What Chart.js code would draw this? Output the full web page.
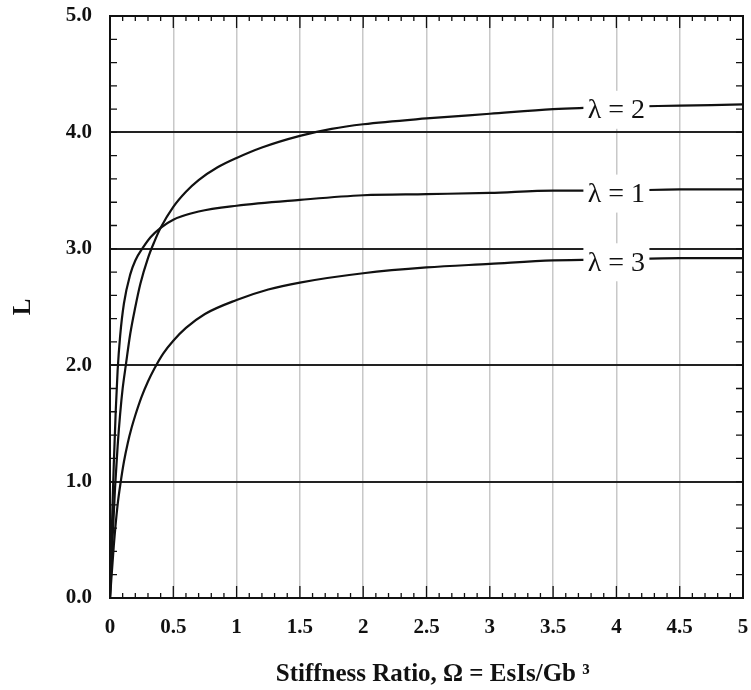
<!DOCTYPE html>
<html>
<head>
<meta charset="utf-8">
<script src="https://cdn.jsdelivr.net/npm/chart.js@4/dist/chart.umd.min.js"></script>
<style>
  html, body { margin: 0; padding: 0; background: #fff; }
  #c { display: block; }
</style>
</head>
<body>
<canvas id="c" width="751" height="690"></canvas>
<script>
// ---- data ----
const lam1X = [0, 0.01, 0.02, 0.03, 0.045, 0.06, 0.08, 0.11, 0.16, 0.2, 0.26, 0.32, 0.4, 0.5, 0.7, 1, 1.5, 2, 2.5, 3, 3.5, 4, 4.5, 5];
const lam1Y = [0, 0.4, 0.8, 1.15, 1.6, 1.95, 2.25, 2.53, 2.78, 2.9, 3.01, 3.1, 3.18, 3.25, 3.32, 3.37, 3.42, 3.46, 3.47, 3.48, 3.50, 3.50, 3.51, 3.51];

const lam2X = [0, 0.02, 0.04, 0.06, 0.08, 0.1, 0.125, 0.16, 0.2, 0.24, 0.3, 0.35, 0.4, 0.5, 0.6, 0.7, 0.85, 1, 1.2, 1.5, 1.75, 2, 2.5, 3, 3.5, 4, 4.5, 5];
const lam2Y = [0, 0.5, 0.95, 1.3, 1.58, 1.8, 2.0, 2.27, 2.5, 2.7, 2.92, 3.06, 3.18, 3.36, 3.49, 3.59, 3.70, 3.78, 3.87, 3.97, 4.03, 4.07, 4.12, 4.16, 4.20, 4.22, 4.23, 4.24];

const lam3X = [0, 0.03, 0.06, 0.085, 0.11, 0.14, 0.17, 0.2, 0.25, 0.3, 0.35, 0.42, 0.5, 0.6, 0.75, 1, 1.25, 1.5, 2, 2.5, 3, 3.5, 4, 4.5, 5];
const lam3Y = [0, 0.45, 0.8, 1.0, 1.17, 1.33, 1.46, 1.57, 1.73, 1.86, 1.97, 2.1, 2.21, 2.32, 2.44, 2.56, 2.65, 2.71, 2.79, 2.84, 2.87, 2.90, 2.91, 2.92, 2.92];

const seriesLabels = ['λ = 1', 'λ = 2', 'λ = 3'];
const labelAtX = 4.0;

const xTitle = 'Stiffness Ratio, Ω = EsIs/Gb ³';
const yTitle = 'L';

function pts(xs, ys) { return xs.map((x, i) => ({ x: x, y: ys[i] })); }

const SERIF = '"Liberation Serif", "DejaVu Serif", serif';

function near(v, t) { return Math.abs(v - t) < 1e-6; }

const framePlugin = {
  id: 'frameTicks',
  afterDatasetsDraw(chart) {
    const ctx = chart.ctx;
    const a = chart.chartArea;
    const xs = chart.scales.x, ys = chart.scales.y;
    ctx.save();
    ctx.strokeStyle = '#111';
    ctx.lineWidth = 1.3;
    ctx.beginPath();
    for (let i = 0; i <= 50; i++) {
      const px = xs.getPixelForValue(i / 10);
      const len = (i % 5 === 0) ? 12 : 5;
      ctx.moveTo(px, a.bottom); ctx.lineTo(px, a.bottom - len);
      ctx.moveTo(px, a.top); ctx.lineTo(px, a.top + len);
    }
    for (let i = 0; i <= 25; i++) {
      const py = ys.getPixelForValue(i / 5);
      ctx.moveTo(a.left, py); ctx.lineTo(a.left + 7, py);
      ctx.moveTo(a.right, py); ctx.lineTo(a.right - 7, py);
    }
    ctx.stroke();
    // frame
    ctx.lineWidth = 2;
    ctx.strokeStyle = '#111';
    ctx.strokeRect(a.left, a.top, a.right - a.left, a.bottom - a.top);

    // curve labels with white boxes
    ctx.font = '28px ' + SERIF;
    ctx.textAlign = 'center';
    ctx.textBaseline = 'middle';
    chart.data.datasets.forEach((ds, di) => {
      const d = ds.data;
      let yv = d[d.length - 1].y;
      for (let k = 0; k < d.length - 1; k++) {
        if (d[k].x <= labelAtX && d[k + 1].x >= labelAtX) {
          const t = (labelAtX - d[k].x) / (d[k + 1].x - d[k].x);
          yv = d[k].y + t * (d[k + 1].y - d[k].y);
          break;
        }
      }
      const cx = xs.getPixelForValue(labelAtX);
      const cy = ys.getPixelForValue(yv) + 3;
      ctx.fillStyle = '#fff';
      ctx.fillRect(cx - 33, cy - 19, 66, 38);
      ctx.fillStyle = '#111';
      ctx.fillText(seriesLabels[di], cx, cy + 1);
    });
    ctx.restore();
  }
};

const lineStyle = {
  borderColor: '#111',
  borderWidth: 2.2,
  pointRadius: 0,
  fill: false,
  cubicInterpolationMode: 'monotone',
  showLine: true
};

new Chart(document.getElementById('c'), {
  type: 'scatter',
  data: {
    datasets: [
      Object.assign({ label: seriesLabels[0], data: pts(lam1X, lam1Y) }, lineStyle),
      Object.assign({ label: seriesLabels[1], data: pts(lam2X, lam2Y) }, lineStyle),
      Object.assign({ label: seriesLabels[2], data: pts(lam3X, lam3Y) }, lineStyle)
    ]
  },
  options: {
    responsive: false,
    animation: false,
    layout: { padding: { left: 0, right: 8, top: 16, bottom: 0 } },
    plugins: { legend: { display: false }, tooltip: { enabled: false } },
    scales: {
      x: {
        type: 'linear',
        min: 0, max: 5,
        afterFit(s) { s.height = 92; s.paddingLeft = 0; s.paddingRight = 0; },
        ticks: {
          stepSize: 0.5,
          padding: 17,
          color: '#111',
          font: { family: SERIF, size: 21, weight: 'bold' },
          maxRotation: 0,
          autoSkip: false,
          callback(v) { return String(Math.round(v * 10) / 10); }
        },
        grid: { color: '#c8c8c8', lineWidth: 1.5, drawTicks: false },
        border: { display: false },
        title: {
          display: true,
          text: '  ' + xTitle,
          color: '#111',
          font: { family: SERIF, size: 25, weight: 'bold' },
          padding: { top: 10, bottom: 0 }
        }
      },
      y: {
        type: 'linear',
        min: 0, max: 5,
        afterFit(s) { s.width = 110; s.paddingTop = 0; s.paddingBottom = 0; },
        ticks: {
          stepSize: 0.2,
          padding: 18,
          color: '#111',
          autoSkip: false,
          font: { family: SERIF, size: 21, weight: 'bold' },
          callback(v) { return near(v, Math.round(v)) ? Math.round(v).toFixed(1) : ''; }
        },
        grid: {
          drawTicks: false,
          lineWidth: 2,
          color(ctx) {
            const v = ctx.tick ? ctx.tick.value : 0;
            return near(v, Math.round(v)) ? '#222' : 'rgba(0,0,0,0)';
          }
        },
        border: { display: false },
        title: {
          display: true,
          text: yTitle,
          color: '#111',
          font: { family: SERIF, size: 25, weight: 'bold' },
          padding: { top: 9, bottom: 0 }
        }
      }
    }
  },
  plugins: [framePlugin]
});
</script>
</body>
</html>
